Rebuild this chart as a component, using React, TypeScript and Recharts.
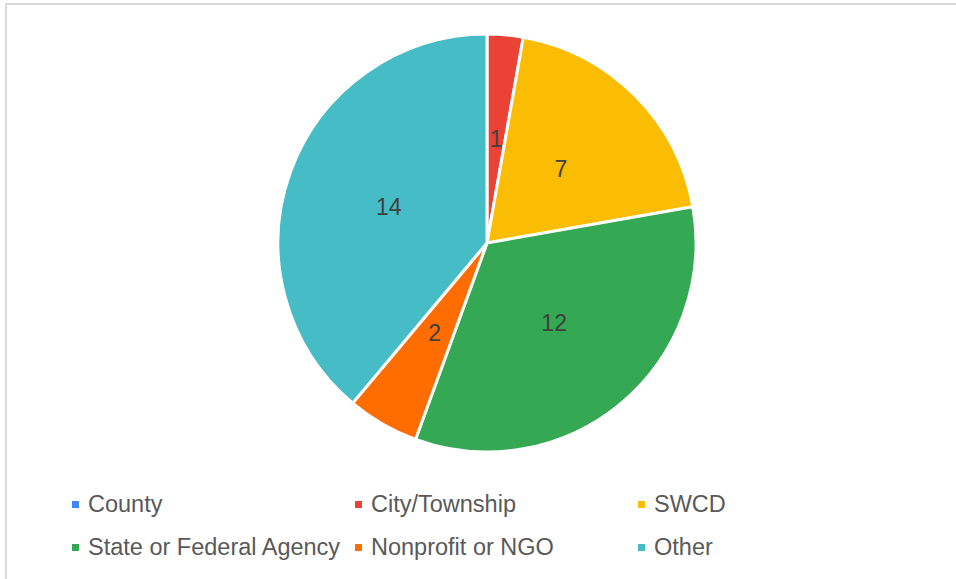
import { Cell, Legend, Pie, PieChart } from "recharts";

const categories = [
  "County",
  "City/Township",
  "SWCD",
  "State or Federal Agency",
  "Nonprofit or NGO",
  "Other",
];
const counts = [0, 1, 7, 12, 2, 14];
const colors = ["#4285F4", "#EA4335", "#FBBC04", "#34A853", "#FF6D01", "#46BDC6"];

const data = categories.map((name, i) => ({ name, value: counts[i] }));

const RADIAN = Math.PI / 180;

const renderLabel = (props: any) => {
  const { cx, cy, midAngle, outerRadius, value } = props;
  if (!value) return null;
  const r = outerRadius * 0.5;
  const x = cx + r * Math.cos(-midAngle * RADIAN);
  const y = cy + r * Math.sin(-midAngle * RADIAN);
  return (
    <text
      x={x}
      y={y}
      fill="#404040"
      fontSize={23}
      fontFamily="'Liberation Sans', Arial, sans-serif"
      textAnchor="middle"
      dominantBaseline="central"
    >
      {value}
    </text>
  );
};

const renderLegend = () => (
  <div
    style={{
      display: "grid",
      gridTemplateColumns: "283px 283px 283px",
      rowGap: 18,
      paddingLeft: 72,
      fontFamily: "'Liberation Sans', Arial, sans-serif",
      fontSize: 23.5,
      color: "#595959",
    }}
  >
    {categories.map((c, i) => (
      <div key={c} style={{ display: "flex", alignItems: "center", height: 25, whiteSpace: "nowrap" }}>
        <span style={{ width: 7, height: 7, background: colors[i], marginRight: 9, display: "inline-block" }} />
        {c}
      </div>
    ))}
  </div>
);

export default function App() {
  return (
    <div style={{ position: "absolute", left: 0, top: 0, width: 956, height: 579, overflow: "hidden", background: "#fff" }}>
      <div
        style={{
          position: "absolute",
          left: 5,
          top: 3,
          width: 1000,
          height: 1000,
          border: "2px solid #d9d9d9",
        }}
      />
      <div style={{ position: "absolute", left: 0, top: 0 }}>
        <PieChart width={956} height={579} margin={{ top: 0, right: 0, bottom: 0, left: 0 }}>
          <Pie
            data={data}
            dataKey="value"
            nameKey="name"
            cx={487}
            cy={243}
            outerRadius={209}
            startAngle={90}
            endAngle={-270}
            stroke="#ffffff"
            strokeWidth={3}
            label={renderLabel}
            labelLine={false}
            isAnimationActive={false}
          >
            {data.map((d, i) => (
              <Cell key={d.name} fill={colors[i]} />
            ))}
          </Pie>
          <Legend
            content={renderLegend}
            verticalAlign="bottom"
            wrapperStyle={{ position: "absolute", left: 0, top: 492, bottom: "auto", width: 956 }}
          />
        </PieChart>
      </div>
    </div>
  );
}
